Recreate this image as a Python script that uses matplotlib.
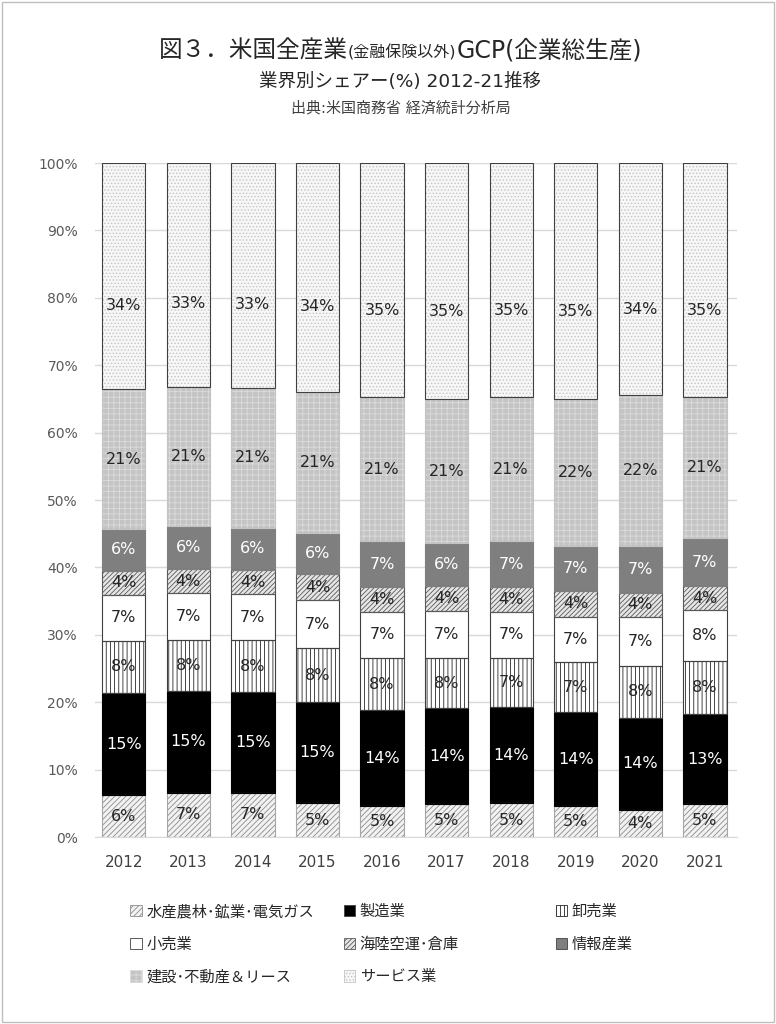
import matplotlib
matplotlib.use("Agg")
import matplotlib.pyplot as plt
import numpy as np
from matplotlib.offsetbox import TextArea, HPacker, AnnotationBbox
from matplotlib.patches import Rectangle, Patch

plt.rcParams['font.family'] = ['DejaVu Sans', 'Noto Sans CJK JP']
plt.rcParams['hatch.linewidth'] = 0.6

years = ['2012', '2013', '2014', '2015', '2016', '2017', '2018', '2019', '2020', '2021']
names = ['水産農林･鉱業･電気ガス', '製造業', '卸売業', '小売業',
         '海陸空運･倉庫', '情報産業', '建設･不動産＆リース', 'サービス業']

# shares (%) by industry, bottom to top
primary      = [6.2, 6.6, 6.6, 5.0, 4.6, 4.9, 5.0, 4.6, 4.0, 4.9]
manufacture  = [15.2, 15.0, 14.9, 15.0, 14.2, 14.2, 14.3, 13.9, 13.7, 13.3]
wholesale    = [7.7, 7.6, 7.7, 8.0, 7.8, 7.5, 7.3, 7.4, 7.7, 7.9]
retail       = [6.8, 7.0, 6.8, 7.1, 6.8, 6.9, 6.8, 6.8, 7.3, 7.6]
transport    = [3.6, 3.5, 3.6, 3.9, 3.7, 3.7, 3.7, 3.8, 3.5, 3.5]
information  = [6.2, 6.4, 6.3, 6.1, 6.8, 6.4, 6.8, 6.7, 7.0, 7.2]
construction = [20.7, 20.7, 20.7, 21.0, 21.4, 21.4, 21.4, 21.8, 22.4, 20.9]
services     = [33.6, 33.2, 33.4, 33.9, 34.7, 35.0, 34.7, 35.0, 34.4, 34.7]

series = [primary, manufacture, wholesale, retail, transport,
          information, construction, services]

# face, hatch, hatch color, outline, label color
styles = [
    ('#f2f2f2', '//////', '#8c8c8c', '#a6a6a6', '#262626'),
    ('#000000', None, '#000000', '#000000', 'white'),
    ('white', '||||', '#262626', '#404040', '#262626'),
    ('white', None, 'white', '#404040', '#262626'),
    ('#e6e6e6', '///////', '#595959', '#595959', '#262626'),
    ('#7f7f7f', None, '#7f7f7f', '#7f7f7f', 'white'),
    ('#c4c4c4', '+++', '#dcdcdc', '#c4c4c4', '#262626'),
    ('#f7f7f7', '.....', '#c4c4c4', '#404040', '#262626'),
]

fig = plt.figure(figsize=(7.76, 10.24), dpi=100)
fig.add_artist(Rectangle((0.002, 0.002), 0.996, 0.996, transform=fig.transFigure,
                         fill=False, edgecolor='#bfbfbf', lw=1))
ax = fig.add_axes([0.122, 0.1826, 0.828, 0.6582])

x = np.arange(len(years))
w = 0.67
bottom = np.zeros(len(years))
handles = []
for i, (vals, (fc, hatch, hc, oc, tc)) in enumerate(zip(series, styles)):
    vals = np.array(vals)
    ax.bar(x, vals, w, bottom=bottom, color=fc, hatch=hatch, edgecolor=hc,
           lw=0, zorder=2)
    ax.bar(x, vals, w, bottom=bottom, fill=False, edgecolor=oc,
           lw=0.8, zorder=3)
    frac = 0.37 if i == len(series) - 1 else 0.5
    for xi, b, v in zip(x, bottom, vals):
        ax.text(xi, b + v * frac, f"{v:.0f}%", ha='center', va='center',
                fontsize=11.5, color=tc, zorder=4)
    handles.append(Patch(facecolor=fc, hatch=hatch, edgecolor=hc if hatch else '#404040',
                         lw=0.6, label=names[i]))
    bottom += vals

ax.set_xlim(-0.45, 9.5)
ax.set_ylim(0, 100)
ax.set_yticks(np.arange(0, 101, 10))
ax.set_yticklabels([f"{t}%" for t in range(0, 101, 10)])
ax.set_xticks(x)
ax.set_xticklabels(years)
ax.tick_params(axis='both', length=0, labelsize=11, colors='#404040')
ax.tick_params(axis='y', pad=12, labelsize=10, colors='#595959')
ax.tick_params(axis='x', pad=13)
ax.grid(axis='y', color='#d9d9d9', lw=1, zorder=0)
for s in ['left', 'right', 'top']:
    ax.spines[s].set_visible(False)
ax.spines['bottom'].set_color('#d9d9d9')

# legend: three equal-width columns, filled row by row
col_x = [0.168, 0.443, 0.716]
for c in range(3):
    idx = list(range(c, len(names), 3))
    leg = fig.legend([handles[k] for k in idx], [names[k] for k in idx],
                     loc='upper left', bbox_to_anchor=(col_x[c], 0.117),
                     frameon=False, fontsize=11, handlelength=0.75,
                     handleheight=0.75, handletextpad=0.3, labelspacing=1.15,
                     borderpad=0, borderaxespad=0)
    for t in leg.get_texts():
        t.set_color('#262626')

# title with smaller parenthetical
parts = [TextArea("図３．米国全産業", textprops=dict(fontsize=17, color='#262626')),
         TextArea("(金融保険以外)", textprops=dict(fontsize=11.5, color='#262626')),
         TextArea("GCP(企業総生産)", textprops=dict(fontsize=17, color='#262626'))]
box = HPacker(children=parts, align='baseline', pad=0, sep=0)
ab = AnnotationBbox(box, (0.516, 0.951), xycoords='figure fraction', frameon=False,
                    box_alignment=(0.5, 0.5))
fig.add_artist(ab)

fig.text(0.515, 0.920, "業界別シェアー(%) 2012-21推移", ha='center', va='center',
         fontsize=13.3, color='#262626')
fig.text(0.517, 0.895, "出典:米国商務省 経済統計分析局", ha='center', va='center',
         fontsize=10.8, color='#404040')

fig.savefig("out.png", dpi=100)
